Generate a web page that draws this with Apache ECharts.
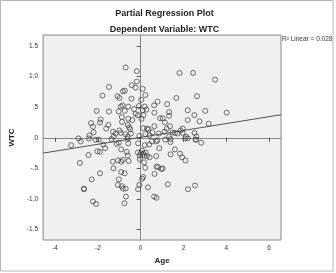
<!DOCTYPE html>
<html>
<head>
<meta charset="utf-8">
<script src="https://cdn.jsdelivr.net/npm/echarts@6/dist/echarts.min.js"></script>
<style>html,body{margin:0;padding:0;background:#fff}#c{width:336px;height:273px}</style>
</head>
<body>
<div id="c"></div>
<script>
// Partial residuals
const ageResid = [
 -0.70,-0.18,-0.18,-0.42,-0.24,-1.48,0.09,-0.83,-0.74,-1.79,-1.08,-0.99,0.22,-0.43,0.03,0.79,-0.85,-0.93,-0.58,-0.08,0.19,0.63,-0.31,0.10,0.27,-2.06,-1.48,-1.03,-0.74,-0.24,-0.13,0.13,0.64,0.91,-1.87,-1.90,-0.88,-0.58,-0.39,0.04,-2.32,-2.23,-2.20,-1.51,-1.61,-0.87,-0.60,-0.54,-0.49,-1.29,-1.17,-0.99,-0.93,-0.72,-0.45,0.12,0.30,0.37,0.64,0.55,-2.39,0.22,0.42,0.85,
 1.82,2.45,3.48,1.67,2.63,1.24,1.33,1.33,2.20,2.51,3.02,4.02,1.03,1.13,2.20,2.75,3.18,1.37,1.22,1.12,1.97,1.87,1.96,1.72,2.52,1.33,2.12,2.60,
 -3.25,-2.91,-2.80,-2.42,-2.11,-1.96,-1.75,-1.66,-1.36,-1.12,-1.02,-0.61,-0.58,-0.12,0.19,0.40,0.52,0.72,0.78,-2.44,-2.02,-1.90,-0.91,-0.65,-0.60,-0.13,0.01,0.13,-0.04,0.16,0.30,0.42,0.87,0.73,-2.84,-1.30,-1.06,-0.91,-0.83,-0.56,-0.04,0.16,-1.27,0.21,0.74,0.81,0.97,-1.90,-0.91,-0.75,0.65,-2.29,-1.02,0.12,0.07,-2.65,-2.65,-1.06,-0.88,-0.83,-0.70,-0.06,-0.12,0.34,0.63,0.74,-0.69,-2.23,-2.09,-0.76,
 1.15,1.40,1.39,2.08,2.20,2.57,2.59,2.83,1.60,1.40,1.84,1.94,2.09,1.03,1.27,2.21,2.54,
 0.06,0.24,-0.06,-0.61,-1.26,1.49,1.61
];
const wtcResid = [
 1.15,1.09,0.92,0.86,0.82,0.83,0.80,0.76,0.77,0.69,0.68,0.65,0.70,0.64,0.62,0.59,0.53,0.51,0.51,0.52,0.51,0.53,0.47,0.45,0.46,0.44,0.43,0.43,0.44,0.39,0.37,0.37,0.41,0.32,0.30,0.25,0.34,0.31,0.29,0.31,0.24,0.18,0.09,0.21,0.15,0.26,0.21,0.17,0.14,0.10,0.07,0.12,0.08,0.06,0.07,0.16,0.15,0.14,0.19,0.09,0.04,0.06,0.04,0.07,
 1.06,1.06,0.95,0.65,0.68,0.55,0.42,0.36,0.45,0.37,0.44,0.41,0.32,0.25,0.29,0.27,0.23,0.19,0.15,0.10,0.15,0.12,0.08,0.07,0.08,0.02,0.02,0.02,
 -0.12,-0.01,-0.06,-0.01,-0.03,-0.03,-0.11,-0.17,-0.02,-0.10,-0.08,-0.02,-0.09,-0.09,-0.12,-0.11,-0.06,-0.06,-0.04,-0.28,-0.22,-0.23,-0.19,-0.23,-0.29,-0.24,-0.25,-0.26,-0.29,-0.29,-0.30,-0.32,-0.17,-0.30,-0.41,-0.39,-0.37,-0.39,-0.36,-0.38,-0.35,-0.40,-0.50,-0.49,-0.47,-0.48,-0.51,-0.58,-0.56,-0.58,-0.59,-0.68,-0.68,-0.64,-0.67,-0.84,-0.83,-0.77,-0.79,-0.83,-0.83,-0.77,-0.84,-0.81,-0.96,-0.98,-0.96,-1.04,-1.08,-1.07,
 -0.03,-0.02,-0.07,-0.01,-0.01,-0.03,-0.03,-0.08,-0.19,-0.27,-0.26,-0.32,-0.37,-0.50,-0.76,-0.84,-0.78,
 -0.21,-0.24,0.03,0.02,0.02,0.09,0.08
];
// Fit line end points
const fitX = [-4.56, 6.56];
const fitY = [-0.25, 0.377];
const xTicks = [-4, -2, 0, 2, 4, 6];
const yTicks = [-1.5, -1.0, -0.5, 0, 0.5, 1.0, 1.5];
const xRange = [-4.56, 6.56];
const yRange = [-1.67, 1.68];
const titleLines = ['Partial Regression Plot', 'Dependent Variable: WTC'];
const r2Text = 'R\u00B2 Linear = 0.028';

const pts = ageResid.map((a, i) => [a, wtcResid[i]]);
const fit = fitX.map((x, i) => [x, fitY[i]]);

function fmtY(v) {
  let s = Math.abs(v).toFixed(1);
  if (s.startsWith('0')) s = s.slice(1);
  return (v < 0 ? '-' : '') + s;
}
const FONT = '"Liberation Sans", Arial, sans-serif';

const chart = echarts.init(document.getElementById('c'), null, {renderer: 'canvas'});
chart.setOption({
  animation: false,
  backgroundColor: '#fff',
  title: [
    {text: titleLines[0], left: 164.5, top: 9, textAlign: 'center', padding: 0,
     textStyle: {fontSize: 9, fontWeight: 'bold', color: '#222', fontFamily: FONT}},
    {text: titleLines[1], left: 164.5, top: 25, textAlign: 'center', padding: 0,
     textStyle: {fontSize: 9, fontWeight: 'bold', color: '#222', fontFamily: FONT}}
  ],
  graphic: [
    {type: 'rect', shape: {x: 0.5, y: 0.5, width: 332.5, height: 270.5},
     style: {fill: 'none', stroke: '#b5b5b5', lineWidth: 1}, silent: true, z: -1},
    {type: 'text', x: 282, y: 36, style: {text: r2Text, fill: '#333', font: '6.5px ' + FONT}}
  ],
  grid: {left: 33, right: 55, top: 35, bottom: 33, show: true,
         backgroundColor: '#f0f0f0', borderColor: '#8a8a8a', borderWidth: 1},
  xAxis: {
    type: 'value', min: xRange[0], max: xRange[1],
    name: 'Age', nameLocation: 'middle', nameGap: 15,
    nameTextStyle: {fontSize: 8, fontWeight: 'bold', color: '#222', fontFamily: FONT},
    axisLine: {show: true, lineStyle: {color: '#8a8a8a'}},
    axisTick: {show: true, inside: false, length: 4, customValues: xTicks, lineStyle: {color: '#555'}},
    axisLabel: {customValues: xTicks, fontSize: 6.5, color: '#333', margin: 5, fontFamily: FONT},
    splitLine: {show: false}
  },
  yAxis: {
    type: 'value', min: yRange[0], max: yRange[1],
    name: 'WTC', nameLocation: 'middle', nameGap: 27, nameRotate: 90,
    nameTextStyle: {fontSize: 8, fontWeight: 'bold', color: '#222', fontFamily: FONT},
    axisLine: {show: true, lineStyle: {color: '#8a8a8a'}},
    axisTick: {show: true, inside: false, length: 4, customValues: yTicks, lineStyle: {color: '#555'}},
    axisLabel: {customValues: yTicks, fontSize: 6.5, color: '#333', margin: 5, fontFamily: FONT,
                formatter: fmtY},
    splitLine: {show: false}
  },
  series: [
    {type: 'line', data: fit, showSymbol: false, symbol: 'none',
     lineStyle: {color: '#555', width: 1}, z: 2, clip: true},
    {type: 'scatter', data: pts, symbol: 'circle', symbolSize: 5,
     itemStyle: {color: 'rgba(0,0,0,0)', borderColor: '#3a3a3a', borderWidth: 0.9}, z: 3}
  ]
});
</script>
</body>
</html>
